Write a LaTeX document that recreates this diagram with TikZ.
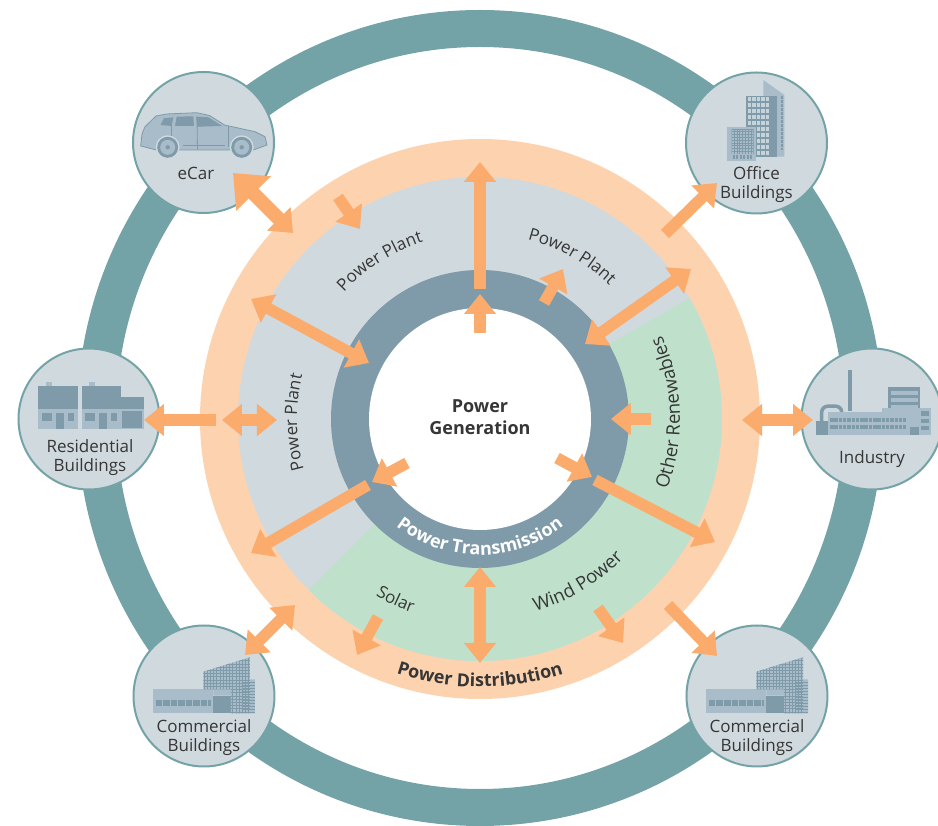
\documentclass[tikz,border=0pt]{standalone}
\usepackage{fontspec}
\setmainfont{Open Sans}
\usetikzlibrary{arrows.meta,decorations.text}
\definecolor{ringc}{HTML}{74A3A7}
\definecolor{peachc}{HTML}{FDD2AF}
\definecolor{flowc}{HTML}{FBAB6B}
\definecolor{plantc}{HTML}{D0D9DE}
\definecolor{greenc}{HTML}{BFE1CB}
\definecolor{gridc}{HTML}{7F9BAA}
\definecolor{iconc}{HTML}{A8BCC9}
\definecolor{paleec}{HTML}{C6D3DB}
\definecolor{inkc}{HTML}{363636}
\newcommand{\bandfont}{\fontsize{17}{19}\selectfont\color{inkc}}
\newcommand{\wideband}{\fontsize{18.5}{20}\selectfont\color{inkc}}
\newcommand{\boldband}{\fontsize{18}{20}\selectfont\bfseries\color{inkc}}
\newcommand{\whiteband}{\fontsize{18}{20}\selectfont\bfseries\color{white}}
\tikzset{
  flow/.style={draw=flowc,line width=11.5pt,-{Triangle[width=31pt,length=20pt]}},
  flowboth/.style={draw=flowc,line width=11.5pt,{Triangle[width=31pt,length=20pt]}-{Triangle[width=31pt,length=20pt]}},
  flowcar/.style={draw=flowc,line width=14pt,{Triangle[width=47pt,length=29pt]}-{Triangle[width=32pt,length=20pt]}},
  sat/.style={circle,draw=ringc,line width=2pt,fill=plantc,minimum size=141pt,inner sep=0pt},
  satlabel/.style={font=\fontsize{17}{19}\selectfont,text=inkc,align=center,inner sep=0pt},
  bandtext/.style={decorate,decoration={text along path,text align=center,text={#1}}},
  commercial/.pic={
    \fill[iconc] (-51.3,6.7) rectangle (9.3,-17.3);
    \draw[gridc,line width=6pt,dash pattern=on 6.5pt off 1pt] (-48,-7) -- (6.7,-7);
    \fill[gridc] (9.3,0.3) rectangle (27,-17.3);
    \fill[iconc] (-0.7,24.3) -- (46,38.7) -- (46,16.7) -- (51,16.7) -- (51,-17.3) -- (27,-17.3) -- (27,0.3) -- (9.3,0.3) -- (9.3,6.7) -- (-0.7,6.7) -- cycle;
    \begin{scope}
      \clip (-0.7,24.3) -- (46,38.7) -- (46,-17.3) -- (27,-17.3) -- (27,6.7) -- (-0.7,6.7) -- cycle;
      \draw[gridc,line width=0.7pt,step=3.2] (-3,-18) grid (48,40);
    \end{scope}
    \foreach \y in {14,11,...,-16} {
      \draw[gridc,line width=0.7pt] (38,\y) -- (51,\y);
    }
  }
}

\begin{document}
\begin{tikzpicture}[x=1pt,y=1pt]
\useasboundingbox (-480,-407) rectangle (458,419);

\fill[ringc,even odd rule] (0,1) ellipse [x radius=403,y radius=408] (0,1) ellipse [x radius=364,y radius=371];
\fill[peachc] (0,0) circle (280);
\fill[plantc] (0,0) circle (242);
\fill[greenc] (0,0) -- (225:242) arc (225:390:242) -- cycle;
\fill[gridc] (0,0) circle (149);
\fill[white] (0,0) circle (111);

\node[font=\fontsize{18}{22}\selectfont\bfseries,text=inkc,align=center,inner sep=0pt] (generation) at (0,2) {Power\\Generation};

\path[bandtext={|\bandfont|Power Plant}] (147.4:186) arc (147.4:97.4:186);
\path[bandtext={|\bandfont|Power Plant}] (85.5:186) arc (85.5:35.5:186);
\path[bandtext={|\bandfont|Power Plant}] (206:183) arc (206:156:183);
\path[bandtext={|\wideband|Other Renewables}] (-33:200) arc (-33:37:200);
\path[bandtext={|\bandfont|Solar}] (225:205) arc (225:265:205);
\path[bandtext={|\wideband|Wind Power}] (276:200) arc (276:326:200);
\path[bandtext={|\whiteband|Power Transmission}] (215:136) arc (215:325:136);
\path[bandtext={|\boldband|Power Distribution}] (240:268) arc (240:300:268);

\node[sat] (ecar) at (-276.5,276.5) {};
\node[sat] (office) at (276.5,276) {};
\node[sat] (residential) at (-391,0) {};
\node[sat] (industry) at (392,0) {};
\node[sat] (commleft) at (-276,-277) {};
\node[sat] (commright) at (277,-277) {};

\node[satlabel] (ecarlabel) at (-284,246) {eCar};
\node[satlabel] (officelabel) at (276.5,234) {Office\\Buildings};
\node[satlabel] (residentiallabel) at (-390,-39) {Residential\\Buildings};
\node[satlabel] (industrylabel) at (392,-40) {Industry};
\node[satlabel] (commleftlabel) at (-276,-319) {Commercial\\Buildings};
\node[satlabel] (commrightlabel) at (277,-319) {Commercial\\Buildings};

\begin{scope}[shift={(ecar)}]
\fill[iconc,draw=gridc,line width=0.8pt] (-62.8,-3.5) -- (-61.5,8.5) -- (-58.5,15.8) -- (-47.5,26.5) -- (-37,28.5) -- (-6.8,29.8) -- (6,27) -- (21,17.5) -- (51.5,10.8) -- (61.5,5.8) -- (63.5,-2.5) -- (49.8,-7.5) -- (-47,-7.5) -- cycle;
\fill[gridc] (-43,17.5) -- (-39.5,24.2) -- (-30.2,25.2) -- (-31.8,16.5) -- cycle;
\fill[gridc] (-28.5,16.5) -- (-26.8,25.8) -- (-10.2,26.2) -- (-9.5,16.5) -- cycle;
\fill[gridc] (-6.2,15.8) -- (-7.5,25.8) -- (4.8,25.2) -- (18.5,16.5) -- cycle;
\draw[gridc,line width=0.8pt] (-32,16.5) -- (-32,-2);
\draw[gridc,line width=0.8pt] (-6.5,24) -- (-6,-7);
\draw[gridc,line width=0.8pt] (25,16) -- (25,-5);
\draw[gridc,line width=0.8pt] (-20,-3) -- (22,-3);
\foreach \x in {-35.8,38.2} {
  \fill[plantc] (\x,-4.8) circle (12);
  \fill[gridc] (\x,-4.8) circle (10.5);
  \fill[iconc] (\x,-4.8) circle (7.5);
  \fill[gridc] (\x,-4.8) circle (2.2);
}
\end{scope}

\begin{scope}[shift={(office)}]
\fill[iconc] (6.8,63) -- (27.8,48) -- (27.8,-13.7) -- (6.8,-13.7) -- cycle;
\fill[gridc] (-10.8,47) rectangle (20.8,-13.7);
\foreach \y in {44,38,...,-10} {
  \draw[paleec,line width=3.6pt,dash pattern=on 3.6pt off 0.9pt] (-8.8,\y) -- (13.5,\y);
}
\draw[gridc,line width=2pt,dash pattern=on 3pt off 1pt] (25,47) -- (25,-7);
\fill[iconc] (-29.8,15.7) rectangle (-0.5,-18);
\begin{scope}
  \clip (-25,13.5) rectangle (-3,-11);
  \draw[gridc,line width=0.7pt,step=2.8] (-26,-12) grid (-2,14);
\end{scope}
\draw[gridc,line width=4pt,dash pattern=on 2pt off 1.5pt] (-24,-14.5) -- (-3,-14.5);
\end{scope}

\begin{scope}[shift={(industry)}]
\fill[gridc] (-24.3,48.8) rectangle (-19.7,7.8);
\draw[gridc,line width=3.5pt,rounded corners=6pt] (-50.3,-2) -- (-50.3,12.8) -- (-30.3,12.8) -- (-30.3,6);
\fill[gridc] (-55.7,-2.2) rectangle (-43.7,-16.5);
\fill[iconc] (-43.7,6.8) rectangle (38,-16.5);
\fill[gridc] (16.3,31.8) rectangle (48,6.8);
\foreach \y in {24,17,10} {
  \fill[iconc] (18.5,\y+4) rectangle (46,\y);
}
\fill[iconc] (9.7,11.2) rectangle (58.7,-16.5);
\draw[gridc,line width=4pt,dash pattern=on 3.5pt off 0.8pt] (-42,-0.8) -- (34,-0.8);
\draw[gridc,line width=4pt,dash pattern=on 3.5pt off 0.8pt] (-42,-8.5) -- (34,-8.5);
\fill[gridc] (38,-8) rectangle (47,-16.5);
\fill[gridc] (49,8) rectangle (57,3);
\fill[gridc] (49,0) rectangle (57,-4);
\fill[gridc] (49,-7) rectangle (57,-11);
\end{scope}

\begin{scope}[shift={(residential)}]
\fill[iconc] (-43,37.3) rectangle (-36.7,27.3);
\fill[iconc] (0.3,37.3) rectangle (6.3,27.3);
\fill[gridc] (-50.7,33.3) rectangle (-11.3,9.7);
\fill[iconc] (-50.7,9.7) rectangle (-11.3,-10);
\fill[gridc] (-46.7,5.7) rectangle (-37.3,-2);
\fill[gridc] (-33,5.7) rectangle (-25,-10);
\fill[gridc] (-21.3,5.7) rectangle (-15,-2);
\fill[gridc] (-7.3,33.3) rectangle (31.7,9.7);
\fill[iconc] (-7.3,9.7) rectangle (31.7,-10);
\fill[gridc] (-3.7,5.7) rectangle (6,-2);
\fill[gridc] (10.3,5.7) rectangle (18.3,-10);
\fill[gridc] (21.7,5.7) rectangle (27.7,-2);
\fill[gridc] (31.7,21.7) rectangle (55,9.7);
\fill[iconc] (31.7,9.7) rectangle (55,-10);
\fill[gridc] (33.3,8) rectangle (53.3,-9.3);
\end{scope}

\pic at (commleft) {commercial};
\pic at (commright) {commercial};

\coordinate (ecarfar) at (-247,246);
\coordinate (ecarnear) at (-187,186);
\coordinate (plantinfrom) at (-142,222);
\coordinate (plantinto) at (-120,190);
\coordinate (plantouter) at (-229,120);
\coordinate (plantinner) at (-111,56);
\coordinate (topfrom) at (0,130);
\coordinate (topto) at (0,257);
\coordinate (hubfrom) at (0,86);
\coordinate (hubto) at (0,125);
\coordinate (rightfrom) at (64,116);
\coordinate (rightto) at (83,150);
\coordinate (edgeouter) at (211,150);
\coordinate (edgeinner) at (105,75);
\coordinate (officefrom) at (185,185);
\coordinate (officeto) at (237,236);
\coordinate (otherfrom) at (171,0);
\coordinate (otherto) at (131,0);
\coordinate (industryfar) at (262,-1);
\coordinate (industrynear) at (333,-1);
\coordinate (residentfrom) at (-264,-1);
\coordinate (residentto) at (-336,-1);
\coordinate (leftfar) at (-258,-1);
\coordinate (leftnear) at (-203,-1);
\coordinate (lowleftfrom) at (-112,-66);
\coordinate (lowleftto) at (-229,-134);
\coordinate (hubleftfrom) at (-73,-44);
\coordinate (hubleftto) at (-108,-63);
\coordinate (hubrightfrom) at (77,-39);
\coordinate (hubrightto) at (112,-58);
\coordinate (lowrightfrom) at (115,-61);
\coordinate (lowrightto) at (235,-123);
\coordinate (bottomtop) at (0,-148);
\coordinate (bottomend) at (0,-244);
\coordinate (solarfrom) at (-102,-198);
\coordinate (solarto) at (-123,-236);
\coordinate (windfrom) at (118,-189);
\coordinate (windto) at (143,-224);
\coordinate (commrightfrom) at (188,-186);
\coordinate (commrightto) at (237,-237);
\coordinate (commleftnear) at (-185,-186);
\coordinate (commleftfar) at (-235,-236);

\draw[flowcar] (ecarfar) -- (ecarnear);
\draw[flow] (plantinfrom) -- (plantinto);
\draw[flowboth] (plantouter) -- (plantinner);
\draw[flow] (topfrom) -- (topto);
\draw[flow] (hubfrom) -- (hubto);
\draw[flow] (rightfrom) -- (rightto);
\draw[flowboth] (edgeouter) -- (edgeinner);
\draw[flow] (officefrom) -- (officeto);
\draw[flow] (otherfrom) -- (otherto);
\draw[flowboth] (industryfar) -- (industrynear);
\draw[flow] (residentfrom) -- (residentto);
\draw[flowboth] (leftfar) -- (leftnear);
\draw[flow] (lowleftfrom) -- (lowleftto);
\draw[flow] (hubleftfrom) -- (hubleftto);
\draw[flow] (hubrightfrom) -- (hubrightto);
\draw[flow] (lowrightfrom) -- (lowrightto);
\draw[flowboth] (bottomtop) -- (bottomend);
\draw[flow] (solarfrom) -- (solarto);
\draw[flow] (windfrom) -- (windto);
\draw[flow] (commrightfrom) -- (commrightto);
\draw[flowboth] (commleftnear) -- (commleftfar);
\end{tikzpicture}
\end{document}
